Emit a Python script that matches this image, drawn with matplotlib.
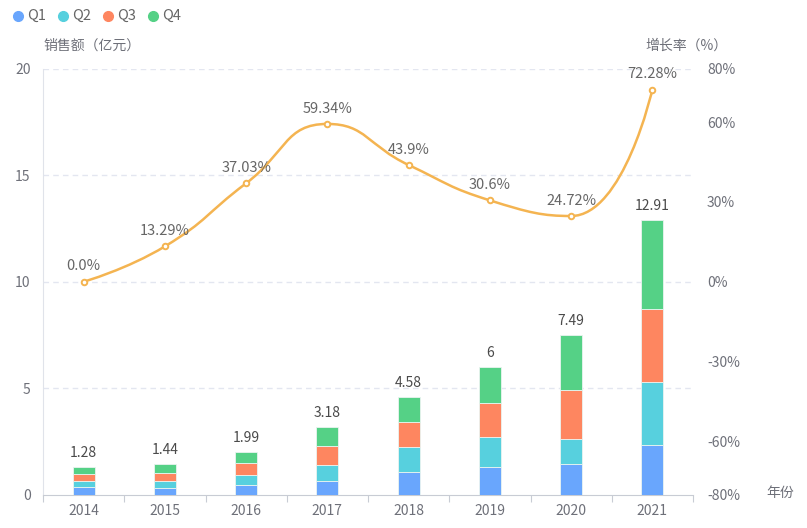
import matplotlib
matplotlib.use("Agg")
import matplotlib.pyplot as plt
import numpy as np
from matplotlib.path import Path
from matplotlib.patches import PathPatch
from matplotlib.lines import Line2D

plt.rcParams['font.family'] = ['Noto Sans CJK SC', 'DejaVu Sans']

years = ['2014', '2015', '2016', '2017', '2018', '2019', '2020', '2021']
q1 = [0.34, 0.31, 0.46, 0.64, 1.07, 1.30, 1.44, 2.33]
q2 = [0.31, 0.34, 0.48, 0.75, 1.14, 1.41, 1.19, 2.94]
q3 = [0.31, 0.38, 0.52, 0.87, 1.19, 1.60, 2.29, 3.45]
q4 = [0.32, 0.41, 0.53, 0.92, 1.18, 1.69, 2.57, 4.19]
totals = [1.28, 1.44, 1.99, 3.18, 4.58, 6, 7.49, 12.91]
total_labels = ['1.28', '1.44', '1.99', '3.18', '4.58', '6', '7.49', '12.91']
growth = [0.0, 13.29, 37.03, 59.34, 43.9, 30.6, 24.72, 72.28]
growth_labels = ['0.0%', '13.29%', '37.03%', '59.34%', '43.9%', '30.6%', '24.72%', '72.28%']
series_names = ['Q1', 'Q2', 'Q3', 'Q4']
colors = ['#69A6FD', '#57D0DE', '#FE8660', '#55D186']
line_color = '#F4B451'
left_ticks = [0, 5, 10, 15, 20]
right_ticks = [-80, -60, -30, 0, 30, 60, 80]

W, H = 807, 528
fig = plt.figure(figsize=(W / 100, H / 100), dpi=100)
L, R, B, T = 43, 693, 494.5, 69
ax = fig.add_axes([L / W, 1 - B / H, (R - L) / W, (B - T) / H])
ax2 = ax.twinx()

x = np.arange(len(years))
ax.set_xlim(-0.5, len(years) - 0.5)
ax.set_ylim(0, 20)
ax2.set_ylim(-80, 80)

bottom = np.zeros(len(years))
for vals, c in zip([q1, q2, q3, q4], colors):
    ax.bar(x, vals, width=0.27, bottom=bottom, color=c, edgecolor='#EAF4F0',
           linewidth=0.6, zorder=3)
    bottom += np.array(vals)

for xi, t, lab in zip(x, totals, total_labels):
    ax.annotate(lab, (xi, t), xytext=(0, 5), textcoords='offset points',
                ha='center', va='bottom', fontsize=10, color='#4A4A4A', zorder=5)

# grid
for v in left_ticks[1:]:
    ax.axhline(v, color='#E3E6F0', lw=1, ls=(0, (4, 3)), zorder=1)

for s in ['top', 'right']:
    ax.spines[s].set_visible(False)
    ax2.spines[s].set_visible(False)
ax2.spines['left'].set_visible(False)
ax2.spines['bottom'].set_visible(False)
ax.spines['left'].set_color('#E0E3EA')
ax.spines['bottom'].set_color('#C8CCD4')

ax.set_yticks(left_ticks)
ax.set_yticklabels([str(v) for v in left_ticks])
ax.tick_params(axis='y', length=0, pad=9, labelsize=10, labelcolor='#6E7079')
ax2.set_yticks(right_ticks)
ax2.set_yticklabels([f'{v}%' for v in right_ticks])
ax2.tick_params(axis='y', length=0, pad=10, labelsize=10, labelcolor='#6E7079')

ax.set_xticks(np.arange(-0.5, len(years), 1.0))
ax.set_xticklabels([])
ax.set_xticks(x, minor=True)
ax.set_xticklabels(years, minor=True)
ax.tick_params(axis='x', which='major', length=5, color='#C8CCD4', direction='out')
ax.tick_params(axis='x', which='minor', length=0, pad=7, labelsize=10, labelcolor='#6E7079')

# smooth line: echarts-style bezier smoothing (with clamping) in pixel space
fig.canvas.draw()
pts = ax2.transData.transform(np.column_stack([x, growth]))
n = len(pts)
smooth = 0.5
verts = [pts[0]]
codes = [Path.MOVETO]
cp0 = pts[0].copy()
for i in range(1, n):
    px, py = pts[i - 1]
    cx, cy = pts[i]
    if i == n - 1:
        cp1 = pts[i].copy()
        nxt_cp0 = None
    else:
        nx, ny = pts[i + 1]
        vx, vy = nx - px, ny - py
        len_prev = np.hypot(cx - px, cy - py)
        len_next = np.hypot(nx - cx, ny - cy)
        ratio = len_next / (len_next + len_prev)
        ncx = cx + vx * smooth * ratio
        ncy = cy + vy * smooth * ratio
        ncx = min(ncx, max(nx, cx)); ncx = max(ncx, min(nx, cx))
        ncy = min(ncy, max(ny, cy)); ncy = max(ncy, min(ny, cy))
        vx, vy = ncx - cx, ncy - cy
        c1x = cx - vx * len_prev / len_next
        c1y = cy - vy * len_prev / len_next
        c1x = min(c1x, max(px, cx)); c1x = max(c1x, min(px, cx))
        c1y = min(c1y, max(py, cy)); c1y = max(c1y, min(py, cy))
        vx, vy = cx - c1x, cy - c1y
        ncx = cx + vx * len_next / len_prev
        ncy = cy + vy * len_next / len_prev
        cp1 = np.array([c1x, c1y])
        nxt_cp0 = np.array([ncx, ncy])
    verts += [cp0, cp1, pts[i]]
    codes += [Path.CURVE4] * 3
    cp0 = nxt_cp0
inv = ax2.transData.inverted()
verts_d = inv.transform(np.array(verts))
patch = PathPatch(Path(verts_d, codes), facecolor='none', edgecolor=line_color,
                  lw=1.8, transform=ax2.transData, zorder=4, clip_on=False)
ax2.add_patch(patch)
ax2.plot(x, growth, ls='none', marker='o', ms=4, mfc='white', mec=line_color,
         mew=1.4, zorder=6, clip_on=False)
for xi, g, lab in zip(x, growth, growth_labels):
    ax2.annotate(lab, (xi, g), xytext=(0, 6), textcoords='offset points',
                 ha='center', va='bottom', fontsize=10.5, color='#666666', zorder=7)

# axis names
fig.text(43 / W, 1 - 46 / H, '销售额（亿元）', ha='left', va='center',
         fontsize=10, color='#6E7079')
fig.text(728 / W, 1 - 46 / H, '增长率（%）', ha='right', va='center',
         fontsize=10, color='#6E7079')
fig.text(766 / W, 1 - 493 / H, '年份', ha='left', va='center',
         fontsize=10, color='#6E7079')

# legend
lx = [18, 63, 108, 153]
for xx, name, c in zip(lx, series_names, colors):
    fig.add_artist(Line2D([xx / W], [1 - 16 / H], marker='o', ms=7, color=c,
                          ls='none', transform=fig.transFigure))
    fig.text((xx + 9) / W, 1 - 16 / H, name, ha='left', va='center',
             fontsize=10.5, color='#666666')

fig.savefig('out.png', dpi=100)
